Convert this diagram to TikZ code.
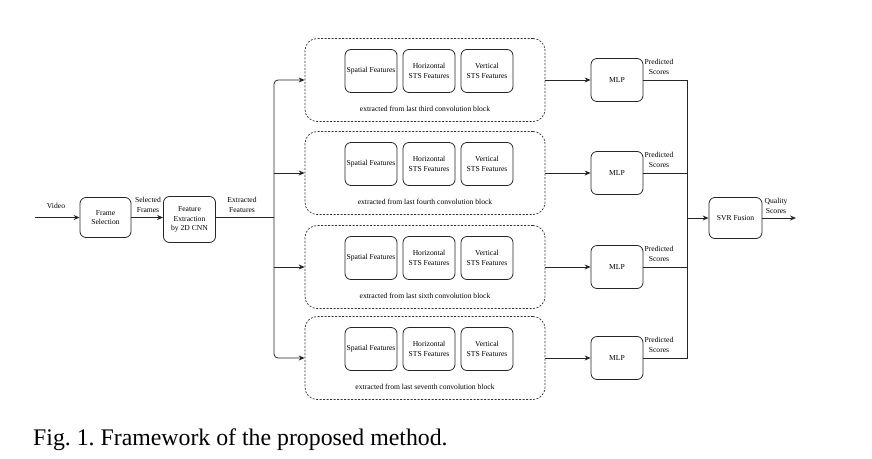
\documentclass[tikz,border=0pt]{standalone}
\usepackage{fontspec}
\setmainfont{Liberation Serif}
\usetikzlibrary{arrows.meta}
\frenchspacing
\newcommand{\smallfs}{\fontsize{7.6}{9.4}\selectfont}
\tikzset{
  boxn/.style={draw=black!85, line width=0.8pt, rounded corners=6pt, minimum width=52pt, minimum height=43pt, inner sep=0pt, align=center, font=\smallfs},
  dbox/.style={draw=black!80, line width=0.7pt, dash pattern=on 2pt off 1.5pt, rounded corners=12pt, minimum width=240pt, minimum height=83pt, inner sep=0pt},
  conn/.style={line width=0.8pt, draw=black!85},
  arr/.style={conn, -{Stealth[length=6pt,width=5pt]}},
  lbl/.style={font=\smallfs, align=center, inner sep=0pt}
}
\begin{document}
\begin{tikzpicture}[x=1pt,y=-1pt]
\useasboundingbox (0,0) rectangle (872,458);
% left part
\node[boxn, minimum width=51pt, minimum height=40pt] (fs) at (105.5,217.5) {Frame\\Selection};
\node[boxn, minimum width=52pt, minimum height=46pt] (fe) at (189.5,219.5) {Feature\\Extraction\\by 2D CNN};
\coordinate (vin) at (35,217.5);
\coordinate (split) at (274,217.5);
\node[lbl] (lvideo) at (56,206) {Video};
\node[lbl] (lsel) at (148,205) {Selected\\Frames};
\node[lbl] (lext) at (242,205) {Extracted\\Features};
\draw[arr] (vin) -- (fs.west);
\draw[arr] (fs.east) -- (fs.east -| fe.west);
\draw[conn] (fe.east |- fs.east) -- (split);
% rows
\foreach \i/\y/\t in {1/80/third, 2/173/fourth, 3/267/sixth, 4/358/seventh}{
  \node[dbox] (d\i) at (425,\y) {};
  \node[boxn] (sp\i) at (371,\y-9) {Spatial Features};
  \node[boxn] (ho\i) at (429,\y-9) {Horizontal\\STS Features};
  \node[boxn] (ve\i) at (487,\y-9) {Vertical\\STS Features};
  \node[lbl] (ex\i) at (425,\y+29) {extracted from last \t\ convolution block};
  \node[boxn] (m\i) at (617,\y) {MLP};
  \node[lbl] (ps\i) at (659,\y-13) {Predicted\\Scores};
  \draw[arr] (d\i.east) -- (m\i.west);
}
% trunk to boxes
\draw[arr, rounded corners=4pt] (split) |- (d1.west);
\draw[arr, rounded corners=4pt] (split) |- (d4.west);
\draw[arr] (split |- d2.west) -- (d2.west);
\draw[arr] (split |- d3.west) -- (d3.west);
% merge
\coordinate (merge) at (687,218);
\node[boxn, minimum width=53pt, minimum height=41pt] (svr) at (735.5,218) {SVR Fusion};
\coordinate (qout) at (796,218);
\node[lbl] (lq) at (776,206) {Quality\\Scores};
\draw[conn] (m1.east) -| (merge);
\draw[conn] (m4.east) -| (merge);
\draw[conn] (m2.east) -- (m2.east -| merge);
\draw[conn] (m3.east) -- (m3.east -| merge);
\draw[arr] (merge) -- (svr.west);
\draw[arr] (svr.east) -- (qout);
% caption
\node[anchor=base west, inner sep=0pt, font=\fontsize{23.8}{28}\selectfont] (cap) at (33,445) {Fig. 1. Framework of the proposed method.};
\end{tikzpicture}
\end{document}
